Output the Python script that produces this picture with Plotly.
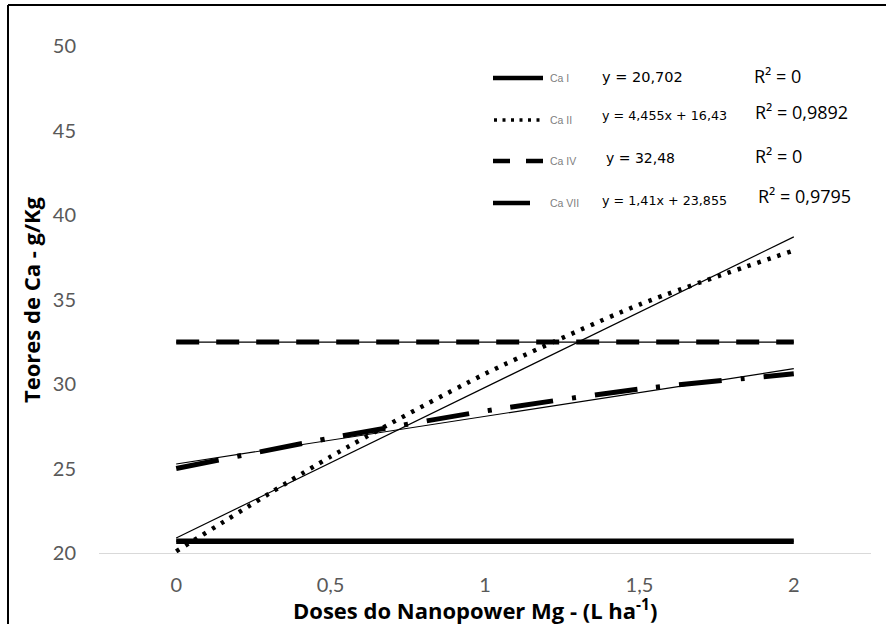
import plotly.graph_objects as go

# ---- data ----
doses = [0, 0.5, 1, 1.5, 2]
dose_labels = ["0", "0,5", "1", "1,5", "2"]
ca_I = [20.702, 20.702, 20.702, 20.702, 20.702]
ca_II = [20.1, 25.7, 30.6, 34.7, 37.9]
ca_IV = [32.48, 32.48, 32.48, 32.48, 32.48]
ca_VII = [25.0, 26.8, 28.4, 29.7, 30.6]
series_names = ["Ca I", "Ca II", "Ca IV", "Ca VII"]
trend_slope = [0.0, 4.455, 0.0, 1.41]
trend_icept = [20.702, 16.43, 32.48, 23.855]
eq_text = ["y = 20,702", "y = 4,455x + 16,43", "y = 32,48", "y = 1,41x + 23,855"]
r2_text = ["R² = 0", "R² = 0,9892", "R² = 0", "R² = 0,9795"]
y_ticks = [20, 25, 30, 35, 40, 45, 50]

W, H = 886, 624
L, R, T, B = 99, 15, 46, 71
PW, PH = W - L - R, H - T - B


def px(x):
    return (x - L) / PW


def py(y):
    return (H - B - y) / PH


styles = [
    dict(width=5.5, dash="solid", shape="linear"),
    dict(width=4.5, dash="3.5px,7px", shape="spline"),
    dict(width=5, dash="23px,17px", shape="linear"),
    dict(width=5, dash="43px,19px,4px,19px", shape="spline"),
]

fig = go.Figure()
data = [ca_I, ca_II, ca_IV, ca_VII]
for name, ys, st in zip(series_names, data, styles):
    fig.add_trace(go.Scatter(
        x=doses, y=ys, mode="lines", name=name, showlegend=False,
        line=dict(color="black", width=st["width"], dash=st["dash"],
                  shape=st["shape"], smoothing=0.7),
        cliponaxis=False,
    ))

# linear trend lines (x index 1..5 in the equations)
for name, m, c in zip(series_names, trend_slope, trend_icept):
    idx = list(range(1, len(doses) + 1))
    fig.add_trace(go.Scatter(
        x=doses, y=[m * i + c for i in idx], mode="lines", showlegend=False,
        line=dict(color="black", width=1.2), name=name + " trend",
    ))

# ---- custom legend ----
rows_y = [78, 120, 161, 203]
eq_y = [77, 115, 158, 200]
eq_x = [600, 600, 604, 600]
eq_size = [14.5, 12.7, 14, 12.7]
r2_y = [76, 112, 156, 196]
r2_x = [752, 753, 753, 756]
shapes = []
shapes.append(dict(type="line", xref="paper", yref="paper", x0=px(493), x1=px(543),
                   y0=py(rows_y[0]), y1=py(rows_y[0]), line=dict(color="black", width=4.5)))
shapes.append(dict(type="line", xref="paper", yref="paper", x0=px(494), x1=px(545),
                   y0=py(rows_y[1]), y1=py(rows_y[1]), line=dict(color="black", width=3.5, dash="3px,5.5px")))
shapes.append(dict(type="line", xref="paper", yref="paper", x0=px(493), x1=px(543),
                   y0=py(rows_y[2]), y1=py(rows_y[2]), line=dict(color="black", width=4.5, dash="17px,16px")))
shapes.append(dict(type="line", xref="paper", yref="paper", x0=px(493), x1=px(530),
                   y0=py(rows_y[3]), y1=py(rows_y[3]), line=dict(color="black", width=4.5)))
# outer frame (left and top edges visible)
shapes.append(dict(type="line", xref="paper", yref="paper", x0=px(8), x1=px(8),
                   y0=py(H + 5), y1=py(5), line=dict(color="black", width=2)))
shapes.append(dict(type="line", xref="paper", yref="paper", x0=px(8), x1=px(W + 5),
                   y0=py(5), y1=py(5), line=dict(color="black", width=2)))

ann = []
for i, nm in enumerate(series_names):
    ann.append(dict(text=nm, x=px(548), y=py(rows_y[i]), xref="paper", yref="paper",
                    xanchor="left", yanchor="middle", showarrow=False,
                    font=dict(family="Liberation Sans", size=10.5, color="#808080")))
    ann.append(dict(text=eq_text[i], x=px(eq_x[i]), y=py(eq_y[i]), xref="paper", yref="paper",
                    xanchor="left", yanchor="middle", showarrow=False,
                    font=dict(family="DejaVu Sans", size=eq_size[i], color="black")))
    ann.append(dict(text=r2_text[i], x=px(r2_x[i]), y=py(r2_y[i]), xref="paper", yref="paper",
                    xanchor="left", yanchor="middle", showarrow=False,
                    font=dict(family="Open Sans", size=18, color="black")))

# axis titles
ann.append(dict(text="<b>Doses do Nanopower Mg - (L ha<sup>-1</sup>)</b>", x=px(475), y=py(609),
                xref="paper", yref="paper", xanchor="center", yanchor="middle", showarrow=False,
                font=dict(family="Open Sans", size=22, color="black")))
ann.append(dict(text="<b>Teores de Ca - g/Kg</b>", x=px(31), y=py(300), textangle=-90,
                xref="paper", yref="paper", xanchor="center", yanchor="middle", showarrow=False,
                font=dict(family="Open Sans", size=22, color="black")))

fig.update_layout(
    width=W, height=H,
    margin=dict(l=L, r=R, t=T, b=B),
    paper_bgcolor="white", plot_bgcolor="white",
    shapes=shapes, annotations=ann,
    xaxis=dict(range=[-0.25, 2.25], tickvals=doses, ticktext=dose_labels,
               showgrid=False, zeroline=False, showline=True, linecolor="#d9d9d9", linewidth=1,
               ticks="", ticklabelstandoff=14,
               tickfont=dict(family="Lato", size=20, color="#595959")),
    yaxis=dict(range=[20, 50], tickvals=y_ticks, showgrid=False, zeroline=False,
               showline=False, ticks="", ticklabelstandoff=22,
               tickfont=dict(family="Lato", size=20, color="#595959")),
)

fig.write_html("out.html")
